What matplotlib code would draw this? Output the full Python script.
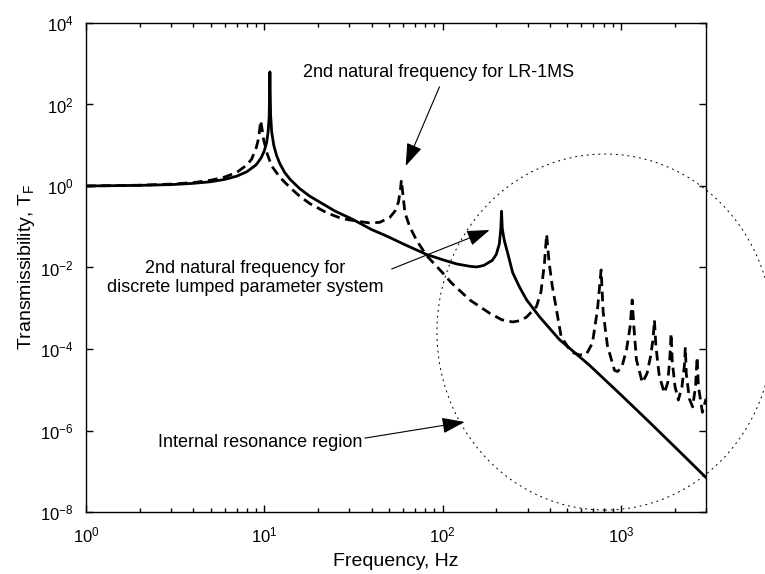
"""Transmissibility of the LR-1MS model vs the discrete lumped parameter system."""
import matplotlib
matplotlib.use("Agg")
import matplotlib.pyplot as plt
from matplotlib.patches import Ellipse
from matplotlib.ticker import LogLocator, NullLocator, NullFormatter

plt.rcParams["font.family"] = ["Liberation Sans", "DejaVu Sans"]
plt.rcParams["mathtext.fontset"] = "custom"
plt.rcParams["mathtext.rm"] = "Liberation Sans"
plt.rcParams["mathtext.it"] = "Liberation Sans"
plt.rcParams["mathtext.default"] = "regular"

# discrete lumped parameter system (solid)
freq_lumped = [1, 2, 3, 4, 5, 6, 7, 8, 9, 9.6, 10.0, 10.3, 10.5, 10.65, 10.75,
               10.85, 11.0, 11.3, 11.7, 12.2, 13, 14, 15.8, 18, 20.5, 25, 31,
               40, 49, 60, 81, 100, 120, 142, 155, 170, 190, 200, 208, 212,
               214, 216, 222, 232, 247, 270, 296, 349, 452, 666, 1000, 1445,
               2000, 3000]
T_lumped = [1.0, 1.035, 1.08, 1.16, 1.27, 1.45, 1.74, 2.25, 3.3, 4.9, 7.3,
            11.5, 21, 50, 630, 55, 21, 10, 5.7, 3.6, 2.15, 1.43, 0.86, 0.56,
            0.40, 0.24, 0.155, 0.085, 0.058, 0.038, 0.021, 0.0155, 0.0122,
            0.0107, 0.0103, 0.0112, 0.015, 0.021, 0.038, 0.09, 0.24, 0.09,
            0.045, 0.022, 0.0075, 0.0033, 0.0016, 6.2e-4, 1.7e-4, 4.0e-5,
            7.5e-6, 1.6e-6, 4.0e-7, 7.0e-8]

# LR-1MS (dashed)
freq_lr = [1, 2, 3, 4, 5, 6, 7, 8, 8.5, 9.0, 9.3, 9.45, 9.55, 9.7, 9.9, 10.4,
           11, 12.2, 14, 15.8, 18, 22.4, 27, 33, 39, 44.4, 50.6, 54, 56.5, 58,
           58.7, 59.5, 61.5, 65.4, 71.3, 81, 100, 112, 142, 183, 215, 247,
           275, 296, 336, 356, 372, 383, 395, 412, 432, 462, 526, 586, 641,
           692, 738, 774, 795, 840, 920, 956, 1010, 1074, 1125, 1156, 1185,
           1222, 1318, 1400, 1470, 1515, 1541, 1570, 1640, 1752, 1830, 1880,
           1911, 1940, 2010, 2099, 2200, 2270, 2297, 2325, 2420, 2524, 2620,
           2673, 2720, 2864, 3000]
T_lr = [1.0, 1.045, 1.11, 1.21, 1.38, 1.66, 2.15, 3.3, 4.6, 8.5, 15, 28, 40,
        26, 14, 6.0, 3.1, 1.65, 0.9, 0.56, 0.37, 0.22, 0.16, 0.137, 0.124,
        0.128, 0.17, 0.24, 0.4, 0.8, 1.4, 0.8, 0.22, 0.10, 0.047, 0.020,
        0.0074, 0.0042, 0.0016, 7.6e-4, 5.2e-4, 4.6e-4, 5.0e-4, 6.1e-4,
        1.1e-3, 2.5e-3, 0.012, 0.065, 0.014, 3.5e-3, 1.1e-3, 2.0e-4, 8.5e-5,
        7.1e-5, 7.5e-5, 1.4e-4, 9e-4, 0.0087, 8e-4, 1.2e-4, 3e-5, 2.8e-5,
        3.5e-5, 9.5e-5, 3.5e-4, 1.6e-3, 3e-4, 5.4e-5, 1.5e-5, 2.5e-5, 7e-5,
        1.8e-4, 5.1e-4, 1.2e-4, 2.2e-5, 8.3e-6, 1.5e-5, 6e-5, 2.4e-4, 5e-5,
        1.2e-5, 5.6e-6, 1.2e-5, 4e-5, 1.1e-4, 2.5e-5, 6e-6, 3.8e-6, 1.2e-5,
        6.3e-5, 1.2e-5, 2.8e-6, 6e-6]

fig = plt.figure(figsize=(7.65, 5.74), dpi=100)
ax = fig.add_axes([0.1124, 0.108, 0.8105, 0.852])

ax.loglog(freq_lumped, T_lumped, "-", color="k", lw=2.0)
ax.loglog(freq_lr, T_lr, color="k", lw=2.0, linestyle=(0, (3.5, 2)))

ax.set_xlim(1, 3000)
ax.set_ylim(1e-8, 1e4)
ax.set_yticks([1e-8, 1e-6, 1e-4, 1e-2, 1e0, 1e2, 1e4])
ax.yaxis.set_minor_locator(NullLocator())
ax.xaxis.set_major_locator(LogLocator(base=10))
ax.xaxis.set_minor_locator(LogLocator(base=10, subs=range(2, 10)))
ax.xaxis.set_minor_formatter(NullFormatter())
ax.tick_params(which="both", direction="in", top=True, right=True,
               labelsize=12, width=1.0)
ax.tick_params(which="major", length=5)
ax.tick_params(which="minor", length=3)
ax.tick_params(axis="x", which="major", pad=10)
ax.tick_params(axis="y", which="major", pad=9)
for s in ax.spines.values():
    s.set_linewidth(1.0)

ax.set_xlabel("Frequency, Hz", fontsize=14, labelpad=5)
ax.set_ylabel("Transmissibility, T$_F$", fontsize=14, labelpad=2)

# internal resonance region
ax.add_patch(Ellipse((0.837, 0.368), 0.542, 0.728, transform=ax.transAxes,
                     fill=False, ec="k", lw=0.7, linestyle=(0, (2, 4)),
                     clip_on=False))

arrow = dict(arrowstyle="-|>,head_length=1.0,head_width=0.35", color="k",
             lw=0.8, shrinkA=0, shrinkB=0, mutation_scale=14)

ax.text(94.4, 593, "2nd natural frequency for LR-1MS", fontsize=13,
        ha="center", va="center")
ax.annotate("", xy=(62.1, 3.1), xytext=(96, 270), arrowprops=arrow)

ax.text(7.78, 0.0055, "2nd natural frequency for\ndiscrete lumped parameter system",
        fontsize=13, ha="center", va="center", linespacing=1.1)
ax.annotate("", xy=(183.4, 0.083), xytext=(51.8, 0.0092), arrowprops=arrow)

ax.text(9.44, 5.2e-7, "Internal resonance region", fontsize=13,
        ha="center", va="center")
ax.annotate("", xy=(132.8, 1.62e-6), xytext=(36.6, 6.5e-7), arrowprops=arrow)

fig.savefig("out.png", dpi=100)
